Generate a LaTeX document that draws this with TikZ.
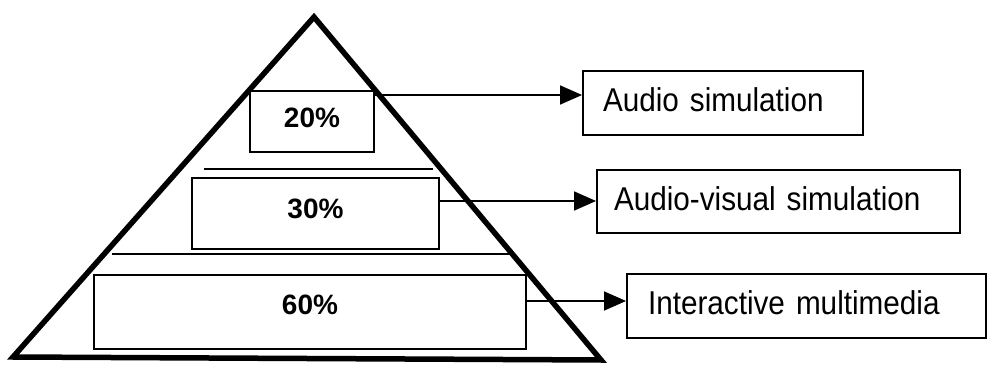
\documentclass[tikz,border=0pt]{standalone}
\usepackage{fontspec}
\setmainfont{Liberation Sans}
\newfontfamily\labelfont[FakeStretch=0.9]{Liberation Sans}
\usetikzlibrary{arrows.meta}

\tikzset{
  pctbox/.style={draw, line width=2pt, anchor=north west, inner sep=0pt,
    font=\fontsize{28}{30}\selectfont\bfseries},
  labelbox/.style={draw, line width=2pt, anchor=north west, inner ysep=0pt,
    align=left, text depth=6pt, font=\labelfont\fontsize{33}{36}\selectfont},
  divider/.style={line width=1.6pt},
  pyramid/.style={line width=5.5pt, line join=miter},
  arr/.style={line width=1.8pt, -{Triangle[length=22pt,width=19pt]}}
}

\begin{document}
\begin{tikzpicture}[x=1pt,y=-1pt]
\useasboundingbox (0,0) rectangle (988,366);

% pyramid outline
\coordinate (apex) at (314,17);
\coordinate (bl) at (13,357);
\coordinate (br) at (601,360);
\draw[pyramid] (apex) -- (br) -- (bl) -- cycle;

% horizontal divisions
\coordinate (d1l) at (204,169);
\coordinate (d1r) at (433,169);
\coordinate (d2l) at (112,254);
\coordinate (d2r) at (510,254);
\draw[divider] (d1l) -- (d1r);
\draw[divider] (d2l) -- (d2r);

% percentage boxes
\node[pctbox, minimum width=124pt, minimum height=61pt, text depth=8pt] (p20) at (249,90) {20\%};
\node[pctbox, minimum width=247pt, minimum height=71pt, text depth=9pt] (p30) at (191,177) {30\%};
\node[pctbox, minimum width=432pt, minimum height=74pt, text depth=14pt] (p60) at (93,274) {60\%};

% description boxes
\node[labelbox, text width=240pt, inner xsep=20pt, minimum height=64pt] (audio) at (582,70) {Audio simulation};
\node[labelbox, text width=329pt, inner xsep=17pt, minimum height=63pt] (av) at (596,169) {Audio-visual simulation};
\node[labelbox, text width=317pt, inner xsep=21pt, minimum height=64pt] (im) at (626,273) {Interactive multimedia};

% connectors
\coordinate (s1) at ([yshift=-5pt]p20.north east);
\coordinate (s2) at ([yshift=-24pt]p30.north east);
\coordinate (s3) at ([yshift=-27pt]p60.north east);
\draw[arr] (s1) -- (s1 -| audio.west);
\draw[arr] (s2) -- (s2 -| av.west);
\draw[arr] (s3) -- (s3 -| im.west);
\end{tikzpicture}
\end{document}
